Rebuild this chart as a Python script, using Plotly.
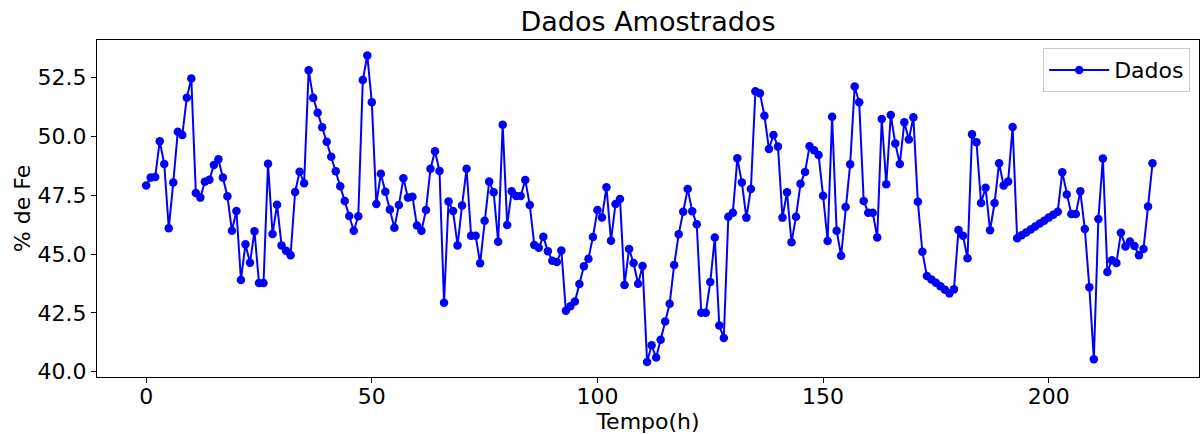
import plotly.graph_objects as go

tempo = list(range(224))
fe = [
    47.92, 48.25, 48.28, 49.80, 48.83, 46.10, 48.04, 50.20, 50.06, 51.65,
    52.46, 47.60, 47.40, 48.07, 48.16, 48.79, 49.03, 48.25, 47.46, 45.99,
    46.83, 43.90, 45.42, 44.63, 45.97, 43.77, 43.77, 48.84, 45.85, 47.10,
    45.37, 45.14, 44.95, 47.64, 48.50, 48.01, 52.81, 51.64, 51.01, 50.39,
    49.77, 49.14, 48.52, 47.88, 47.26, 46.62, 45.99, 46.61, 52.40, 53.44,
    51.45, 47.13, 48.41, 47.65, 46.89, 46.12, 47.09, 48.22, 47.40, 47.44,
    46.21, 45.99, 46.87, 48.63, 49.37, 48.53, 42.93, 47.24, 46.83, 45.37,
    47.07, 48.63, 45.78, 45.78, 44.61, 46.42, 48.08, 47.63, 45.52, 50.50,
    46.24, 47.67, 47.47, 47.47, 48.15, 47.09, 45.39, 45.27, 45.74, 45.12,
    44.72, 44.66, 45.15, 42.59, 42.78, 42.98, 43.73, 44.48, 44.80, 45.73,
    46.87, 46.56, 47.84, 45.57, 47.13, 47.34, 43.69, 45.22, 44.62, 43.74,
    44.49, 40.41, 41.12, 40.60, 41.36, 42.13, 42.89, 44.54, 45.84, 46.80,
    47.77, 46.82, 46.27, 42.51, 42.51, 43.81, 45.70, 41.96, 41.43, 46.59,
    46.76, 49.07, 48.04, 46.55, 47.77, 51.92, 51.84, 50.88, 49.47, 50.06,
    49.57, 46.55, 47.63, 45.50, 46.59, 47.99, 48.49, 49.58, 49.41, 49.21,
    47.48, 45.56, 50.84, 45.99, 44.93, 47.00, 48.82, 52.12, 51.45, 47.26,
    46.76, 46.76, 45.71, 50.74, 47.97, 50.91, 49.70, 48.83, 50.60, 49.87,
    50.82, 47.22, 45.10, 44.07, 43.92, 43.78, 43.63, 43.48, 43.33, 43.50,
    46.02, 45.78, 44.82, 50.09, 49.75, 47.17, 47.82, 46.01, 47.17, 48.86,
    47.92, 48.08, 50.40, 45.67, 45.80, 45.92, 46.05, 46.17, 46.30, 46.42,
    46.55, 46.67, 46.80, 48.48, 47.53, 46.70, 46.70, 47.67, 46.07, 43.59,
    40.53, 46.49, 49.06, 44.24, 44.74, 44.62, 45.91, 45.32, 45.53, 45.34,
    44.95, 45.22, 47.02, 48.86,
]

x_ticks = [0, 50, 100, 150, 200]
y_ticks = [40.0, 42.5, 45.0, 47.5, 50.0, 52.5]

FONT = "DejaVu Sans"

fig = go.Figure()
fig.add_trace(go.Scatter(
    x=tempo, y=fe, mode="lines+markers", name="Dados",
    line=dict(color="#0000ff", width=2),
    marker=dict(color="#0000ff", size=8.5),
))

axis_common = dict(
    showline=True, linecolor="black", linewidth=1, mirror=True,
    ticks="outside", ticklen=5, tickwidth=1, tickcolor="black",
    showgrid=False, zeroline=False,
    tickfont=dict(family=FONT, size=22, color="black"),
)

fig.update_layout(
    width=1202, height=434,
    margin=dict(l=97, r=3, t=40, b=57),
    paper_bgcolor="white", plot_bgcolor="white",
    title=dict(text="Dados Amostrados", x=0.5391, xanchor="center",
               y=1 - 22 / 434, yanchor="middle",
               font=dict(family=FONT, size=27, color="black")),
    xaxis=dict(range=[-10.9, 233.3], tickvals=x_ticks,
               ticktext=[str(v) for v in x_ticks],
               ticklabelstandoff=-5,
               title=dict(text="Tempo(h)", standoff=2,
                          font=dict(family=FONT, size=22, color="black")),
               automargin=False, **axis_common),
    yaxis=dict(range=[39.775, 54.10], tickvals=y_ticks,
               ticktext=[f"{v:.1f}" for v in y_ticks],
               title=dict(text="% de Fe", standoff=0,
                          font=dict(family=FONT, size=22, color="black")),
               automargin=False, **axis_common),
    showlegend=True,
    legend=dict(x=0.992, y=0.976, xanchor="right", yanchor="top",
                bgcolor="white", bordercolor="#cccccc", borderwidth=1,
                itemwidth=60,
                font=dict(family=FONT, size=22, color="black")),
)

fig.write_html("out.html")
